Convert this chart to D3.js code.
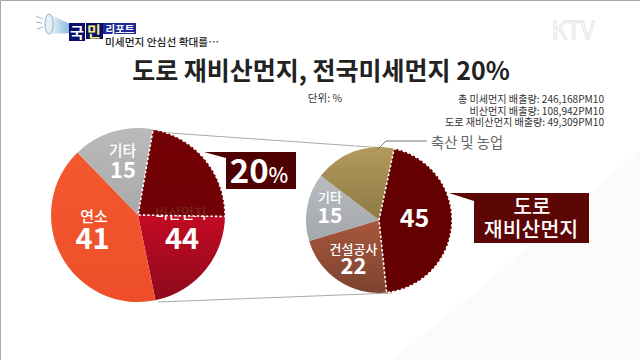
<!DOCTYPE html>
<html>
<head>
<meta charset="utf-8">
<script src="https://cdn.jsdelivr.net/npm/d3@7"></script>
<style>
    html, body { margin: 0; padding: 0; background: #fff; }
    svg { display: block; }
    text { font-family: "Noto Sans CJK KR", "Noto Sans", sans-serif; }
</style>
</head>
<body>
<div id="chart"></div>
<script>
// left pie: share of fine dust by source
var leftLabels = ["비산먼지", "연소", "기타"];
var leftValues = [44, 41, 15];
// the dark wedge inside 비산먼지 is drawn a bit wider than 20% in the picture
var roadLabel = "20%";
var roadWedge = 22.5;

// right pie: breakdown of the wedge
var rightLabels = ["도로 재비산먼지", "건설공사", "기타", "축산 및 농업"];
var rightValues = [45, 22, 15, 18];

var emissionLabels = ["총 미세먼지 배출량: 246,168PM10", "비산먼지 배출량: 108,942PM10", "도로 재비산먼지 배출량: 49,309PM10"];

var width = 640, height = 360;

var svg = d3.select("#chart").append("svg")
    .attr("width", width)
    .attr("height", height);

var defs = svg.append("defs");

function addGradient(id, stops, x2, y2) {
    var g = defs.append("linearGradient").attr("id", id)
        .attr("x1", 0).attr("y1", 0).attr("x2", x2).attr("y2", y2);
    stops.forEach(function (s, i) {
        g.append("stop").attr("offset", i / (stops.length - 1)).attr("stop-color", s);
    });
}
addGradient("redGrad", ["#cc0622", "#c40a24", "#8e0a1c"], 0, 1);
addGradient("orangeGrad", ["#f4582e", "#ee4f2a"], 0, 1);
addGradient("grayGrad", ["#bababa", "#a9a9a9"], 0, 1);
addGradient("tanGrad", ["#b39a5c", "#8f7a45"], 0, 1);
addGradient("brownGrad", ["#a8573c", "#7c4330"], 0, 1);
addGradient("gray2Grad", ["#b8bbbf", "#a4a7ab"], 0, 1);
addGradient("logoGrad", ["#f2f8fc", "#7fb2dc"], 1, 0);

// faint sheen in the lower right of the backdrop
svg.append("path").attr("d", "M392,360L490,280L640,150V360Z").attr("fill", "#fbfbfb");

// frame
svg.append("path").attr("d", "M0.5,360V0.5H640").attr("fill", "none").attr("stroke", "#a8a8a8");

// header
var logo = svg.append("g");
logo.append("path").attr("d", "M49,14 L72,25 L72,33 L50,34 Z").attr("fill", "url(#logoGrad)");
logo.append("ellipse").attr("cx", 49).attr("cy", 24).attr("rx", 4).attr("ry", 10)
    .attr("fill", "#e4eff6").attr("stroke", "#9bb4c4");
logo.append("path").attr("d", "M36,16L43,19M36,22L42,23M37,29L43,27").attr("stroke", "#b0b0b0").attr("fill", "none");
logo.append("rect").attr("x", 69).attr("y", 23).attr("width", 16).attr("height", 18).attr("fill", "#0a0f6b");
logo.append("rect").attr("x", 86).attr("y", 23).attr("width", 17).attr("height", 16).attr("fill", "#0a0f6b");
logo.append("rect").attr("x", 103).attr("y", 23).attr("width", 33).attr("height", 11).attr("fill", "#1c2a96");
logo.append("text").attr("x", 77).attr("y", 38).attr("text-anchor", "middle").attr("font-size", 15)
    .attr("font-weight", 700).attr("fill", "#fff").text("국");
logo.append("text").attr("x", 94).attr("y", 37).attr("text-anchor", "middle").attr("font-size", 15)
    .attr("font-weight", 700).attr("fill", "#f5f07a").text("민");
logo.append("text").attr("x", 120).attr("y", 33).attr("text-anchor", "middle").attr("font-size", 10.5)
    .attr("font-weight", 700).attr("fill", "#fff").text("리포트");
svg.append("text").attr("x", 105).attr("y", 46).attr("font-size", 10.7).attr("font-weight", 500)
    .attr("fill", "#222").text("미세먼지 안심선 확대를…");

// KTV watermark
svg.append("text").attr("x", 573).attr("y", 39).attr("text-anchor", "middle").attr("font-size", 24)
    .attr("fill", "none").attr("stroke", "#dcdfe2").attr("stroke-width", 0.8).text("KTV");

svg.append("text").attr("x", 321).attr("y", 80).attr("text-anchor", "middle")
    .attr("font-size", 25).attr("font-weight", 700).attr("fill", "#222")
    .text("도로 재비산먼지, 전국미세먼지 20%");

svg.append("text").attr("x", 325).attr("y", 102).attr("text-anchor", "middle")
    .attr("font-size", 10.5).attr("fill", "#333").text("단위: %");

svg.selectAll(".emission").data(emissionLabels).enter().append("text")
    .attr("class", "emission")
    .attr("x", 604)
    .attr("y", function (d, i) { return 103 + i * 11.5; })
    .attr("text-anchor", "end")
    .attr("font-size", 10.1)
    .attr("fill", "#333")
    .text(function (d) { return d; });

// connector lines between the pies
svg.append("path").attr("d", "M155,132L385,148M158,302L392,293")
    .attr("fill", "none").attr("stroke", "#a9a9a9").attr("stroke-width", 1);

// pie labels
function label(x, y, size, txt, weight) {
    return svg.append("text").attr("x", x).attr("y", y).attr("text-anchor", "middle")
        .attr("font-size", size).attr("font-weight", weight || 500)
        .attr("fill", "#fff").text(txt);
}

// left pie
var deg = Math.PI / 180;
var leftCenter = [138, 215], leftRadius = 87;
var rightCenter = [379, 220], rightRadius = 73;

var leftPie = d3.pie().sort(null).startAngle(10 * deg).endAngle(370 * deg);
var leftArcs = leftPie(leftValues);
var leftArc = d3.arc().innerRadius(0).outerRadius(leftRadius);
var leftFills = ["url(#redGrad)", "url(#orangeGrad)", "url(#grayGrad)"];

var leftG = svg.append("g").attr("transform", "translate(" + leftCenter + ")");
leftG.selectAll("path.slice").data(leftArcs).enter().append("path")
    .attr("class", "slice")
    .attr("d", leftArc)
    .attr("fill", function (d, i) { return leftFills[i]; });

// 비산먼지 goes under the wedge, its top half shows through dimmed
label(181, 218, 14, leftLabels[0]);

var wedgeAngle = leftArcs[0].startAngle + (leftArcs[0].endAngle - leftArcs[0].startAngle) * roadWedge / leftValues[0];
svg.append("path")
    .attr("transform", "translate(" + leftCenter + ")")
    .attr("d", leftArc({ startAngle: leftArcs[0].startAngle, endAngle: wedgeAngle }))
    .attr("fill", "#650000")
    .attr("fill-opacity", 0.88)
    .attr("stroke", "#fff")
    .attr("stroke-width", 1.6)
    .attr("stroke-dasharray", "2.5,2");

// right pie
var rightPie = d3.pie().sort(null).startAngle(12 * deg).endAngle(372 * deg);
var rightArc = d3.arc().innerRadius(0).outerRadius(rightRadius);
var rightFills = ["#650000", "url(#brownGrad)", "url(#gray2Grad)", "url(#tanGrad)"];

var rightG = svg.append("g").attr("transform", "translate(" + rightCenter + ")");
rightG.selectAll("path.slice").data(rightPie(rightValues)).enter().append("path")
    .attr("class", "slice")
    .attr("d", rightArc)
    .attr("fill", function (d, i) { return rightFills[i]; });
// the road slice goes on top so its dashes are not covered by the neighbours
rightG.append("path")
    .attr("d", rightArc(rightPie(rightValues)[0]))
    .attr("fill", "#650000")
    .attr("stroke", "#fff")
    .attr("stroke-width", 1.6)
    .attr("stroke-dasharray", "2.5,2");

label(122.5, 156, 15, leftLabels[2]);
label(123, 178, 22, leftValues[2], 700);
label(94, 222, 15, leftLabels[1]);
label(92.5, 249, 29, leftValues[1], 700);
label(182, 249, 29, leftValues[0], 700);
label(330, 202, 13, rightLabels[2]);
label(330, 223, 21, rightValues[2], 700);
label(353.5, 254, 13, rightLabels[1]);
label(353.5, 274, 22, rightValues[1], 700);
label(414.5, 227, 25, rightValues[0], 700);

// callouts
svg.append("path").attr("d", "M204,152H296V189H226V158Z").attr("fill", "#4f0000");
svg.append("path").attr("d", "M449,193H589V243H474V201Z").attr("fill", "#5c0606");
svg.append("text").attr("x", 259).attr("y", 183).attr("text-anchor", "middle")
    .attr("font-weight", 700).attr("fill", "#fff")
    .call(function (t) {
        t.append("tspan").attr("font-size", 33).text(roadLabel.slice(0, -1));
        t.append("tspan").attr("font-size", 21).attr("font-weight", 500).text("%");
    });
label(532, 214, 20, "도로");
label(531, 237, 20.5, "재비산먼지");

// 축산 및 농업 leader
svg.append("path").attr("d", "M377,150L386,141H427").attr("fill", "none").attr("stroke", "#777");
svg.append("text").attr("x", 431).attr("y", 148).attr("font-size", 14.3).attr("fill", "#666").text(rightLabels[3]);
</script>
</body>
</html>
